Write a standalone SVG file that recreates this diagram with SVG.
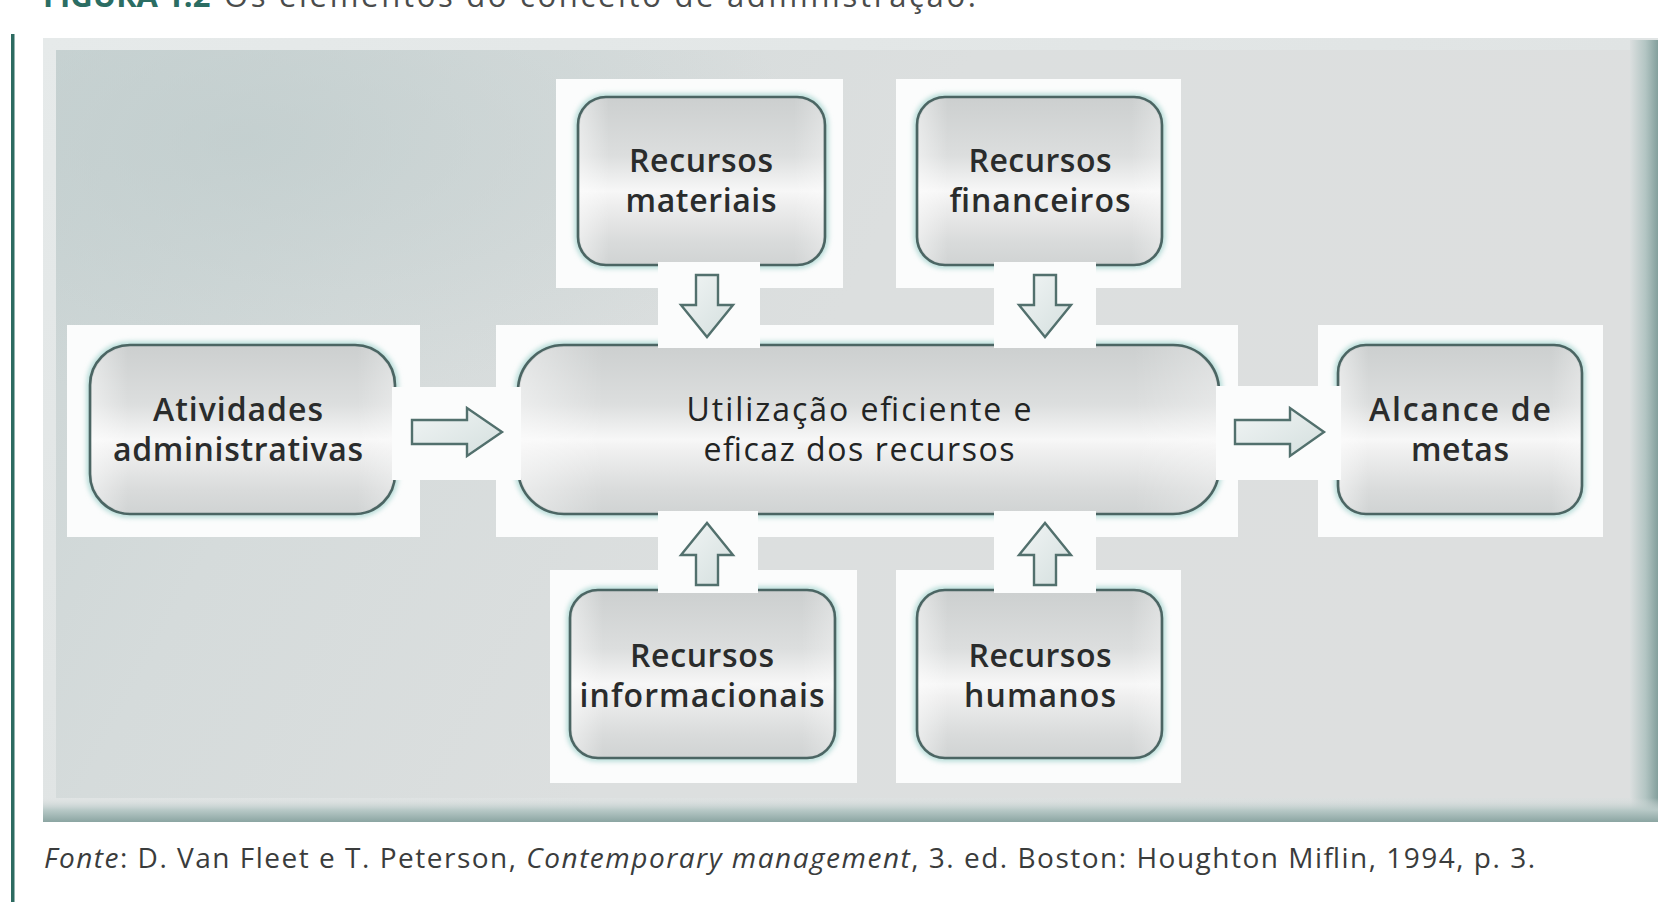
<svg xmlns="http://www.w3.org/2000/svg" width="1672" height="902" viewBox="0 0 1672 902">
  <style>
    .backing { fill: #fbfcfc; }
    .box { fill: url(#silver); stroke: #4b6563; stroke-width: 2.6; }
    .sheen { fill: url(#sheen); stroke: none; }
    .halo { fill: none; stroke: #b4dbd7; stroke-width: 7; filter: url(#soft); }
    .label { font-family: "Open Sans", "Liberation Sans", sans-serif; font-size: 32px; font-weight: 600; fill: #2a2c2c; text-anchor: middle; }
    .label.thin { font-weight: 400; fill: #222424; }
    .strip { fill: #fbfcfc; }
    .arrow { fill: url(#arrowFill); stroke: #52706d; stroke-width: 2.4; stroke-linejoin: miter; }
    .caption { font-family: "Open Sans", "Liberation Sans", sans-serif; font-size: 28px; fill: #3a3c3c; }
    .title { font-family: "Open Sans", "Liberation Sans", sans-serif; font-size: 31px; }
  </style>
  <defs>
    <linearGradient id="silver" x1="0" y1="0" x2="0" y2="1">
      <stop offset="0" stop-color="#cccfcf"/>
      <stop offset="0.35" stop-color="#dcdede"/>
      <stop offset="0.56" stop-color="#f7f7f7"/>
      <stop offset="0.64" stop-color="#eeeeee"/>
      <stop offset="0.86" stop-color="#d9dbdb"/>
      <stop offset="1" stop-color="#d0d3d3"/>
    </linearGradient>
    <linearGradient id="sheen" x1="0" y1="0" x2="1" y2="0">
      <stop offset="0" stop-color="#ffffff" stop-opacity="0.45"/>
      <stop offset="0.12" stop-color="#ffffff" stop-opacity="0"/>
      <stop offset="0.88" stop-color="#ffffff" stop-opacity="0"/>
      <stop offset="1" stop-color="#ffffff" stop-opacity="0.3"/>
    </linearGradient>
    <linearGradient id="arrowFill" x1="0" y1="0" x2="1" y2="1">
      <stop offset="0" stop-color="#f1f5f5"/>
      <stop offset="1" stop-color="#d4dfde"/>
    </linearGradient>
    <linearGradient id="panelFill" x1="0" y1="0" x2="1" y2="0.25">
      <stop offset="0" stop-color="#cad4d4"/>
      <stop offset="0.25" stop-color="#d5dbdb"/>
      <stop offset="0.55" stop-color="#dcdfdf"/>
      <stop offset="1" stop-color="#dddfdf"/>
    </linearGradient>
    <radialGradient id="panelShade" cx="0.12" cy="0.12" r="0.35">
      <stop offset="0" stop-color="#bfcccc" stop-opacity="0.7"/>
      <stop offset="1" stop-color="#bfcccc" stop-opacity="0"/>
    </radialGradient>
    <linearGradient id="edgeRight" x1="0" y1="0" x2="1" y2="0">
      <stop offset="0" stop-color="#dbdfdf"/>
      <stop offset="0.55" stop-color="#b3c5c3"/>
      <stop offset="1" stop-color="#84a09d"/>
    </linearGradient>
    <linearGradient id="edgeBottom" x1="0" y1="0" x2="0" y2="1">
      <stop offset="0" stop-color="#dbdfdf" stop-opacity="0"/>
      <stop offset="0.5" stop-color="#b8c9c7"/>
      <stop offset="1" stop-color="#8ba5a2"/>
    </linearGradient>
    <linearGradient id="bevel" x1="0" y1="0" x2="1" y2="1">
      <stop offset="0" stop-color="#e6eaea"/>
      <stop offset="1" stop-color="#dadede"/>
    </linearGradient>
    <filter id="soft" x="-10%" y="-10%" width="120%" height="120%">
      <feGaussianBlur stdDeviation="2.5"/>
    </filter>
  </defs>

  <!-- page -->
  <rect x="0" y="0" width="1672" height="902" fill="#ffffff"/>

  <!-- heading, running off the top edge -->
  <text class="title" x="43" y="7"><tspan fill="#2b6d63" font-weight="bold">FIGURA 1.2</tspan><tspan fill="#4a4c4c" x="224" textLength="752">Os elementos do conceito de administração.</tspan></text>

  <!-- side rule -->
  <rect x="11" y="34" width="3.5" height="868" fill="#2d6b61"/>

  <!-- background panel -->
  <g id="panel">
    <rect x="43" y="38" width="1615" height="784" fill="url(#bevel)"/>
    <rect x="56" y="50" width="1576" height="748" fill="url(#panelFill)"/>
    <rect x="56" y="50" width="1576" height="748" fill="url(#panelShade)"/>
    <rect x="1630" y="40" width="28" height="782" fill="url(#edgeRight)"/>
    <rect x="43" y="798" width="1615" height="24" fill="url(#edgeBottom)"/>
  </g>

  <!-- nodes -->
  <g id="node-materiais">
    <rect class="backing" x="556" y="79" width="287" height="209"/>
    <rect class="halo" x="578" y="97" width="247" height="168" rx="28"/>
    <rect class="box" x="578" y="97" width="247" height="168" rx="28"/>
    <rect class="sheen" x="580" y="99" width="243" height="164" rx="26"/>
    <text class="label" x="701" y="172" textLength="144">Recursos</text>
    <text class="label" x="701" y="212" textLength="151">materiais</text>
  </g>

  <g id="node-financeiros">
    <rect class="backing" x="896" y="79" width="285" height="209"/>
    <rect class="halo" x="917" y="97" width="245" height="168" rx="28"/>
    <rect class="box" x="917" y="97" width="245" height="168" rx="28"/>
    <rect class="sheen" x="919" y="99" width="241" height="164" rx="26"/>
    <text class="label" x="1040" y="172" textLength="143">Recursos</text>
    <text class="label" x="1040" y="212" textLength="181">financeiros</text>
  </g>

  <g id="node-atividades">
    <rect class="backing" x="67" y="325" width="353" height="212"/>
    <rect class="halo" x="90" y="345" width="305" height="169" rx="40"/>
    <rect class="box" x="90" y="345" width="305" height="169" rx="40"/>
    <rect class="sheen" x="92" y="347" width="301" height="165" rx="38"/>
    <text class="label" x="238" y="421" textLength="170">Atividades</text>
    <text class="label" x="238" y="461" textLength="250">administrativas</text>
  </g>

  <g id="node-utilizacao">
    <rect class="backing" x="496" y="325" width="742" height="212"/>
    <rect class="halo" x="518" y="345" width="701" height="169" rx="46"/>
    <rect class="box" x="518" y="345" width="701" height="169" rx="46"/>
    <rect class="sheen" x="520" y="347" width="697" height="165" rx="44"/>
    <text class="label thin" x="859" y="421" textLength="345">Utilização eficiente e</text>
    <text class="label thin" x="859" y="461" textLength="311">eficaz dos recursos</text>
  </g>

  <g id="node-alcance">
    <rect class="backing" x="1318" y="325" width="285" height="212"/>
    <rect class="halo" x="1338" y="345" width="244" height="169" rx="28"/>
    <rect class="box" x="1338" y="345" width="244" height="169" rx="28"/>
    <rect class="sheen" x="1340" y="347" width="240" height="165" rx="26"/>
    <text class="label" x="1460" y="421" textLength="182">Alcance de</text>
    <text class="label" x="1460" y="461" textLength="98">metas</text>
  </g>

  <g id="node-informacionais">
    <rect class="backing" x="550" y="570" width="307" height="213"/>
    <rect class="halo" x="570" y="590" width="265" height="168" rx="28"/>
    <rect class="box" x="570" y="590" width="265" height="168" rx="28"/>
    <rect class="sheen" x="572" y="592" width="261" height="164" rx="26"/>
    <text class="label" x="702" y="667" textLength="144">Recursos</text>
    <text class="label" x="702" y="707" textLength="245">informacionais</text>
  </g>

  <g id="node-humanos">
    <rect class="backing" x="896" y="570" width="285" height="213"/>
    <rect class="halo" x="917" y="590" width="245" height="168" rx="28"/>
    <rect class="box" x="917" y="590" width="245" height="168" rx="28"/>
    <rect class="sheen" x="919" y="592" width="241" height="164" rx="26"/>
    <text class="label" x="1040" y="667" textLength="143">Recursos</text>
    <text class="label" x="1040" y="707" textLength="152">humanos</text>
  </g>

  <!-- connectors: white channels that open the box borders, with block arrows -->
  <g id="connectors">
    <rect class="strip" x="658" y="262" width="102" height="86"/>
    <rect class="strip" x="994" y="262" width="102" height="86"/>
    <rect class="strip" x="658" y="511" width="100" height="82"/>
    <rect class="strip" x="994" y="511" width="102" height="82"/>
    <rect class="strip" x="392" y="387" width="129" height="93"/>
    <rect class="strip" x="1216" y="386" width="125" height="94"/>

    <path class="arrow" d="M696,275 H718 V305 H733 L707,337 L681,305 H696 Z"/>
    <path class="arrow" d="M1034,275 H1056 V305 H1071 L1045,337 L1019,305 H1034 Z"/>
    <path class="arrow" d="M696,585 H718 V555 H733 L707,523 L681,555 H696 Z"/>
    <path class="arrow" d="M1034,585 H1056 V555 H1071 L1045,523 L1019,555 H1034 Z"/>
    <path class="arrow" d="M412,420 H467 V408 L502,432 L467,456 V444 H412 Z"/>
    <path class="arrow" d="M1235,420 H1290 V408 L1324,432 L1290,456 V444 H1235 Z"/>
  </g>

  <!-- source line -->
  <text class="caption" x="44" y="868" textLength="1491"><tspan font-style="italic">Fonte</tspan>: D. Van Fleet e T. Peterson, <tspan font-style="italic">Contemporary management</tspan>, 3. ed. Boston: Houghton Miflin, 1994, p. 3.</text>
</svg>
